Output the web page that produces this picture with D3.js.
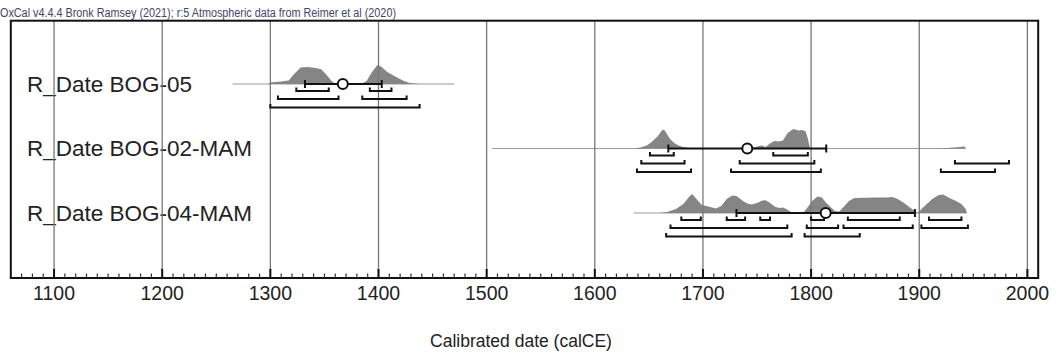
<!DOCTYPE html>
<html><head><meta charset="utf-8">
<script src="https://cdn.jsdelivr.net/npm/d3@7"></script>
<style>body{margin:0;background:#fff;} svg{display:block;}</style>
</head><body>
<svg id="c" width="1062" height="356"></svg>
<script>
// ---------- data ----------
const headerText = "OxCal v4.4.4 Bronk Ramsey (2021); r:5 Atmospheric data from Reimer et al (2020)";
const xTitle = "Calibrated date (calCE)";
const rowNames = ["R_Date BOG-05", "R_Date BOG-02-MAM", "R_Date BOG-04-MAM"];
const tickYears = [1100, 1200, 1300, 1400, 1500, 1600, 1700, 1800, 1900, 2000];
const tickLabels = ["1100", "1200", "1300", "1400", "1500", "1600", "1700", "1800", "1900", "2000"];

// relative probability (1 = max plotted height)
const distBOG05 = [[1265,0],[1298,0],[1300,0.08],[1310,0.12],[1317,0.18],[1322,0.5],[1328,0.82],[1334,0.85],[1342,0.8],[1347,0.74],[1352,0.45],[1357,0.12],[1360,0.03],[1385,0.03],[1389,0.15],[1394,0.6],[1399,0.95],[1403,0.85],[1408,0.6],[1413,0.45],[1418,0.3],[1423,0.16],[1428,0.06],[1433,0.02],[1438,0]];
const distBOG02 = [[1636,0],[1642,0.05],[1648,0.15],[1652,0.3],[1658,0.6],[1662,0.9],[1664,0.95],[1667,0.7],[1670,0.45],[1674,0.25],[1678,0.14],[1682,0.06],[1688,0.02],[1740,0.02],[1748,0.06],[1754,0.15],[1758,0.08],[1762,0.25],[1766,0.38],[1770,0.35],[1774,0.4],[1778,0.75],[1782,0.92],[1784,0.97],[1788,0.9],[1792,0.92],[1795,0.85],[1797,0.5],[1799,0],[1915,0],[1925,0.02],[1935,0.06],[1942,0.1],[1943,0]];
const distBOG04 = [[1640,0],[1660,0],[1667,0.05],[1675,0.2],[1682,0.45],[1687,0.8],[1690,0.95],[1694,0.7],[1699,0.4],[1705,0.32],[1712,0.22],[1717,0.35],[1722,0.7],[1727,0.88],[1731,0.85],[1737,0.6],[1741,0.48],[1745,0.42],[1750,0.5],[1755,0.62],[1758,0.64],[1762,0.5],[1767,0.3],[1771,0.25],[1774,0.28],[1777,0.2],[1782,0.03],[1793,0.02],[1797,0.3],[1801,0.6],[1806,0.82],[1810,0.78],[1814,0.5],[1818,0.3],[1822,0.1],[1826,0.08],[1830,0.3],[1835,0.6],[1840,0.75],[1850,0.76],[1860,0.77],[1870,0.77],[1875,0.8],[1880,0.7],[1886,0.5],[1892,0.25],[1897,0.05],[1899,0.03],[1904,0.3],[1912,0.7],[1918,0.9],[1922,0.92],[1928,0.75],[1934,0.6],[1939,0.45],[1943,0.2],[1944,0]];
const distributions = [distBOG05, distBOG02, distBOG04];

const spanStart = [1265, 1505, 1636];
const spanEnd = [1470, 1943, 1944];
const means = [1367, 1741, 1813.5];
const sigmaLo = [1332, 1668, 1731];
const sigmaHi = [1403, 1814, 1896];

const range682 = [[[1324,1354],[1392,1412]], [[1651,1673],[1765,1797]], [[1680,1698],[1722,1739],[1753,1762],[1800,1812],[1834,1882],[1909,1939]]];
const range954 = [[[1307,1363],[1385,1426]], [[1643,1683],[1734,1803],[1933,1983]], [[1670,1778],[1796,1825],[1830,1894],[1902,1945]]];
const range997 = [[[1300,1438]], [[1639,1689],[1726,1809],[1920,1970]], [[1666,1782],[1794,1845]]];

// ---------- drawing ----------
const svg = d3.select("#c");
const x = d3.scaleLinear().domain([1060, 2010]).range([10.8, 1038.2]);
const yRow = d3.scalePoint().domain(rowNames).range([84, 213]);
const h = d3.scaleLinear().domain([0, 1]).range([0, -20]);
const frameTop = 20.7, frameBottom = 278;
const font = "Arial, 'Liberation Sans', sans-serif";

svg.append("text").attr("x", 0).attr("y", 16.5)
  .attr("font-family", font).attr("font-size", 12)
  .attr("textLength", 396).attr("lengthAdjust", "spacingAndGlyphs")
  .attr("fill", "#44446a").text(headerText);

// row labels
svg.selectAll("text.lab").data(rowNames).join("text").attr("class", "lab")
  .attr("x", 27).attr("y", d => yRow(d) + 7.5)
  .attr("font-family", font).attr("font-size", 22.5).attr("fill", "#222")
  .text(d => d);

// thin lines
rowNames.forEach((r, i) => {
  svg.append("line").attr("x1", x(spanStart[i])).attr("x2", x(spanEnd[i]))
    .attr("y1", yRow(r)).attr("y2", yRow(r)).attr("stroke", "#9a9a9a").attr("stroke-width", 1.2);
});

// distributions
const area = d3.area().x(d => x(d[0])).y1(d => h(d[1])).y0(0).curve(d3.curveLinear);
rowNames.forEach((r, i) => {
  svg.append("path").attr("transform", `translate(0,${yRow(r)})`)
    .attr("d", area(distributions[i])).attr("fill", "#858585");
});

// gridlines
svg.selectAll("line.grid").data(tickYears).join("line").attr("class", "grid")
  .attr("x1", d => x(d)).attr("x2", d => x(d)).attr("y1", frameTop).attr("y2", frameBottom)
  .attr("stroke", "#777").attr("stroke-width", 1.3);

// range brackets
const levels = [range682, range954, range997];
const levelOff = [7, 15, 23.5];
levels.forEach((lev, li) => {
  rowNames.forEach((r, i) => {
    lev[i].forEach(seg => {
      const yy = yRow(r) + levelOff[li];
      svg.append("path")
        .attr("d", `M${x(seg[0])},${yy - 3.5}V${yy}H${x(seg[1])}V${yy - 3.5}`)
        .attr("fill", "none").attr("stroke", "#111").attr("stroke-width", 2);
    });
  });
});

// sigma bars + mean
rowNames.forEach((r, i) => {
  const yy = yRow(r);
  svg.append("line").attr("x1", x(sigmaLo[i])).attr("x2", x(sigmaHi[i])).attr("y1", yy).attr("y2", yy)
    .attr("stroke", "#111").attr("stroke-width", 2);
  [sigmaLo[i], sigmaHi[i]].forEach(v => {
    svg.append("line").attr("x1", x(v)).attr("x2", x(v)).attr("y1", yy - 4).attr("y2", yy + 4)
      .attr("stroke", "#111").attr("stroke-width", 2);
  });
  svg.append("circle").attr("cx", x(means[i])).attr("cy", yy).attr("r", 5)
    .attr("fill", "#fff").attr("stroke", "#111").attr("stroke-width", 2);
});

// frame
svg.append("rect").attr("x", x(1060)).attr("y", frameTop).attr("width", x(2010) - x(1060)).attr("height", frameBottom - frameTop)
  .attr("fill", "none").attr("stroke", "#111").attr("stroke-width", 2);

// ticks
const minor = d3.range(1070, 2010, 10).filter(v => v % 100 !== 0);
svg.selectAll("line.minor").data(minor).join("line").attr("class", "minor")
  .attr("x1", d => x(d)).attr("x2", d => x(d)).attr("y1", frameBottom).attr("y2", frameBottom - 4.5)
  .attr("stroke", "#333").attr("stroke-width", 1.2);
svg.selectAll("line.major").data(tickYears).join("line").attr("class", "major")
  .attr("x1", d => x(d)).attr("x2", d => x(d)).attr("y1", frameBottom).attr("y2", frameBottom - 9)
  .attr("stroke", "#111").attr("stroke-width", 2);

svg.selectAll("text.tick").data(tickYears).join("text").attr("class", "tick")
  .attr("x", d => x(d)).attr("y", 300).attr("text-anchor", "middle")
  .attr("font-family", font).attr("font-size", 19.5).attr("fill", "#222")
  .text((d, i) => tickLabels[i]);

svg.append("text").attr("x", 521).attr("y", 347).attr("text-anchor", "middle")
  .attr("font-family", font).attr("font-size", 17.5).attr("fill", "#222").text(xTitle);
</script>
</body></html>
